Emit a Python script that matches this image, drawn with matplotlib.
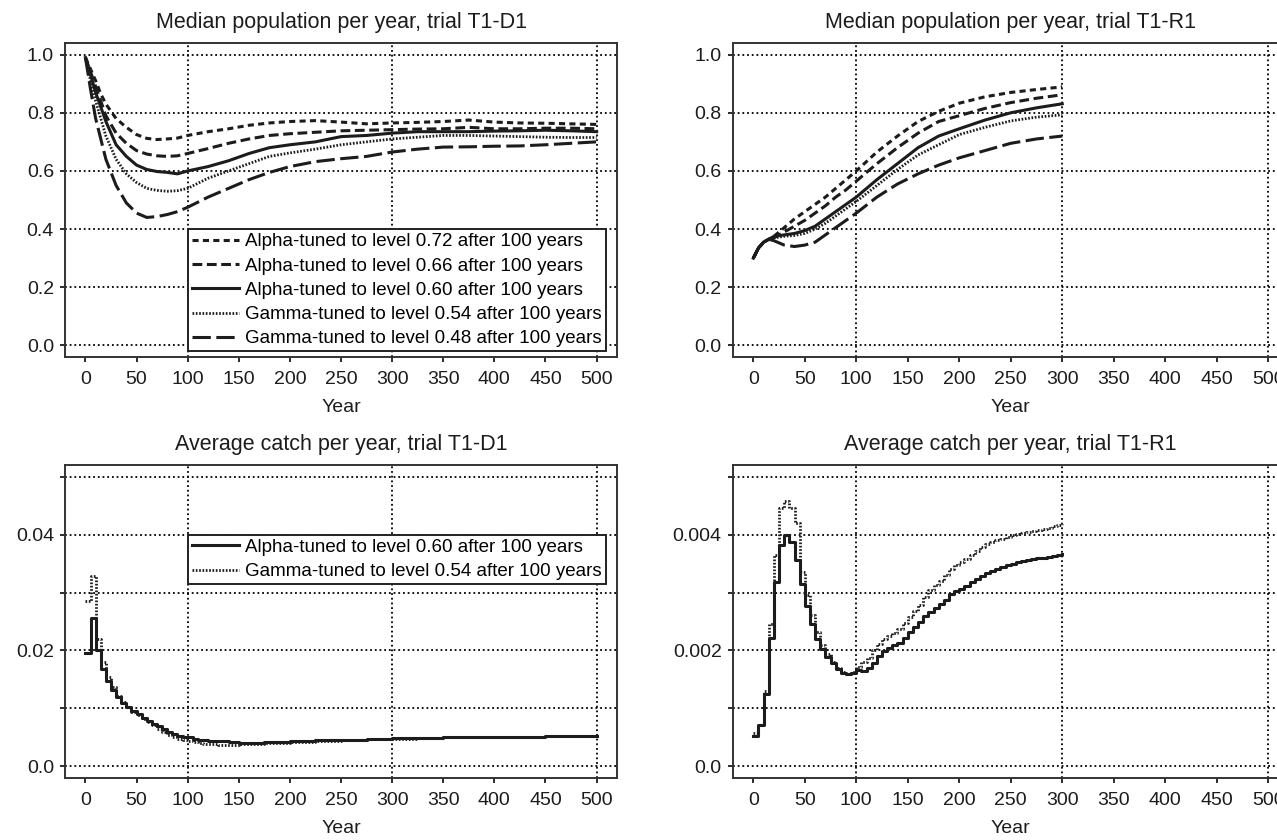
import matplotlib
matplotlib.use("Agg")
import matplotlib.pyplot as plt

plt.rcParams["font.family"] = ["Liberation Sans", "DejaVu Sans"]

# ── data ──────────────────────────────────────────────────────────────────────
years_d1 = [0, 5, 10, 15, 20, 30, 40, 50, 60, 70, 80, 90, 100, 120, 140, 160,
            180, 200, 225, 250, 275, 300, 325, 350, 375, 400, 425, 450, 475, 500]
pop_d1_a072 = [0.99, 0.95, 0.91, 0.865, 0.83, 0.78, 0.75, 0.725, 0.712, 0.708,
               0.71, 0.713, 0.722, 0.735, 0.745, 0.757, 0.765, 0.77, 0.773, 0.768,
               0.762, 0.765, 0.767, 0.77, 0.775, 0.768, 0.765, 0.764, 0.762, 0.76]
pop_d1_a066 = [0.99, 0.94, 0.89, 0.84, 0.79, 0.73, 0.695, 0.67, 0.658, 0.652,
               0.65, 0.652, 0.66, 0.677, 0.695, 0.71, 0.722, 0.728, 0.733, 0.738,
               0.74, 0.742, 0.744, 0.745, 0.75, 0.745, 0.745, 0.747, 0.747, 0.745]
pop_d1_a060 = [0.99, 0.93, 0.87, 0.82, 0.77, 0.69, 0.65, 0.62, 0.605, 0.598,
               0.595, 0.59, 0.60, 0.615, 0.635, 0.66, 0.68, 0.69, 0.70, 0.718,
               0.722, 0.73, 0.735, 0.735, 0.735, 0.737, 0.738, 0.74, 0.738, 0.735]
pop_d1_g054 = [0.99, 0.91, 0.84, 0.78, 0.72, 0.64, 0.59, 0.56, 0.54, 0.533,
               0.53, 0.532, 0.54, 0.575, 0.60, 0.625, 0.65, 0.662, 0.675, 0.69,
               0.70, 0.71, 0.716, 0.722, 0.722, 0.72, 0.718, 0.716, 0.715, 0.715]
pop_d1_g048 = [0.99, 0.88, 0.78, 0.71, 0.64, 0.55, 0.49, 0.455, 0.44, 0.443,
               0.45, 0.46, 0.475, 0.51, 0.54, 0.57, 0.595, 0.615, 0.632, 0.642,
               0.65, 0.665, 0.675, 0.682, 0.683, 0.685, 0.686, 0.69, 0.695, 0.70]

years_r1 = [0, 5, 10, 15, 20, 30, 40, 50, 60, 70, 80, 90, 100, 120, 140, 160,
            180, 200, 225, 250, 275, 300]
pop_r1_a072 = [0.30, 0.335, 0.355, 0.365, 0.375, 0.405, 0.435, 0.46, 0.485, 0.51,
               0.54, 0.57, 0.60, 0.665, 0.72, 0.77, 0.805, 0.833, 0.855, 0.87,
               0.88, 0.889]
pop_r1_a066 = [0.30, 0.335, 0.355, 0.365, 0.37, 0.39, 0.41, 0.43, 0.455, 0.48,
               0.51, 0.535, 0.565, 0.625, 0.68, 0.73, 0.77, 0.79, 0.815, 0.835,
               0.85, 0.862]
pop_r1_a060 = [0.30, 0.335, 0.355, 0.365, 0.375, 0.38, 0.385, 0.395, 0.41, 0.435,
               0.46, 0.485, 0.51, 0.57, 0.625, 0.68, 0.72, 0.745, 0.775, 0.80,
               0.817, 0.831]
pop_r1_g054 = [0.30, 0.335, 0.355, 0.365, 0.37, 0.375, 0.378, 0.385, 0.40, 0.42,
               0.445, 0.47, 0.495, 0.55, 0.605, 0.655, 0.69, 0.725, 0.75, 0.772,
               0.785, 0.793]
pop_r1_g048 = [0.30, 0.335, 0.355, 0.365, 0.36, 0.345, 0.34, 0.345, 0.355, 0.38,
               0.405, 0.43, 0.455, 0.51, 0.555, 0.59, 0.62, 0.645, 0.67, 0.695,
               0.71, 0.72]

catch_years_d1 = [0, 5, 10, 15, 20, 25, 30, 35, 40, 45, 50, 55, 60, 65, 70, 75,
                  80, 85, 90, 95, 100, 105, 110, 115, 120, 130, 140, 150, 175,
                  200, 225, 250, 275, 300, 325, 350, 375, 400, 425, 450, 475, 500]
catch_d1_a060 = [0.0196, 0.0256, 0.0200, 0.0168, 0.0148, 0.0132, 0.0120, 0.0110,
                 0.0102, 0.0095, 0.0090, 0.0084, 0.0079, 0.0074, 0.0069, 0.0064,
                 0.0060, 0.0056, 0.0053, 0.0051, 0.0050, 0.0048, 0.0046, 0.0045,
                 0.0044, 0.0043, 0.0042, 0.0041, 0.0042, 0.0043, 0.0045, 0.0046,
                 0.0047, 0.0049, 0.0049, 0.0050, 0.0050, 0.0051, 0.0051, 0.0052,
                 0.0053, 0.0053]
catch_d1_g054 = [0.0286, 0.0329, 0.0220, 0.0180, 0.0155, 0.0137, 0.0122, 0.0111,
                 0.0102, 0.0094, 0.0088, 0.0082, 0.0076, 0.0071, 0.0065, 0.0060,
                 0.0055, 0.0051, 0.0048, 0.0046, 0.0044, 0.0042, 0.0040, 0.0039,
                 0.0038, 0.0037, 0.0037, 0.0038, 0.0040, 0.0042, 0.0044, 0.0046,
                 0.0047, 0.0048, 0.0049, 0.0050, 0.0050, 0.0051, 0.0051, 0.0052,
                 0.0052, 0.0052]

catch_years_r1 = list(range(0, 301, 5))
catch_r1_a060 = [0.00052, 0.00072, 0.00125, 0.00222, 0.00318, 0.00382, 0.00400,
                 0.00388, 0.00356, 0.00314, 0.00276, 0.00245, 0.00220, 0.00202,
                 0.00189, 0.00178, 0.00168, 0.00161, 0.00159, 0.00162, 0.00167,
                 0.00165, 0.00169, 0.00179, 0.00190, 0.00199, 0.00205, 0.00209,
                 0.00213, 0.00222, 0.00232, 0.00241, 0.00250, 0.00259, 0.00267,
                 0.00274, 0.00280, 0.00287, 0.00297, 0.00302, 0.00306, 0.00312,
                 0.00318, 0.00324, 0.00329, 0.00333, 0.00337, 0.00341, 0.00344,
                 0.00347, 0.00350, 0.00352, 0.00354, 0.00356, 0.00358, 0.00359,
                 0.00360, 0.00362, 0.00363, 0.00365, 0.00366]
catch_r1_g054 = [0.00058, 0.00072, 0.00130, 0.00245, 0.00365, 0.00445, 0.00458,
                 0.00445, 0.00420, 0.00335, 0.00295, 0.00262, 0.00232, 0.00210,
                 0.00194, 0.00180, 0.00170, 0.00163, 0.00160, 0.00163, 0.00172,
                 0.00180, 0.00187, 0.00200, 0.00212, 0.00220, 0.00225, 0.00230,
                 0.00237, 0.00248, 0.00258, 0.00268, 0.00278, 0.00292, 0.00305,
                 0.00313, 0.00320, 0.00331, 0.00340, 0.00347, 0.00352, 0.00358,
                 0.00364, 0.00372, 0.00378, 0.00384, 0.00388, 0.00390, 0.00392,
                 0.00396, 0.00399, 0.00401, 0.00403, 0.00405, 0.00407, 0.00408,
                 0.00410, 0.00412, 0.00414, 0.00416, 0.00418]

labels_pop = ["Alpha-tuned to level 0.72 after 100 years",
              "Alpha-tuned to level 0.66 after 100 years",
              "Alpha-tuned to level 0.60 after 100 years",
              "Gamma-tuned to level 0.54 after 100 years",
              "Gamma-tuned to level 0.48 after 100 years"]
x_ticks = list(range(0, 501, 50))
grid_x = [100, 300, 500]

# ── styles ────────────────────────────────────────────────────────────────────
INK = "#1c1c1c"
STYLES = [dict(ls=(0, (2.0, 1.4)), lw=2.2),   # short dash
          dict(ls=(0, (3.2, 1.5)), lw=2.2),   # medium dash
          dict(ls="-", lw=2.2),               # solid
          dict(ls=(0, (0.6, 0.6)), lw=2.0),   # dotted
          dict(ls=(0, (6.0, 1.8)), lw=2.2)]   # long dash
FS = 14
LEG_FS = 13.5

fig = plt.figure(figsize=(12.77, 8.40), dpi=100)
ax_tl = fig.add_axes([0.0509, 0.575, 0.4323, 0.3738])
ax_tr = fig.add_axes([0.5738, 0.575, 0.4354, 0.3738])
ax_bl = fig.add_axes([0.0509, 0.0738, 0.4323, 0.3726])
ax_br = fig.add_axes([0.5738, 0.0738, 0.4354, 0.3726])


def frame(ax, title):
    ax.set_xlim(-20, 520)
    ax.set_xticks(x_ticks)
    for s in ax.spines.values():
        s.set_color("#333333")
        s.set_linewidth(1.4)
    ax.tick_params(direction="out", length=3.5, width=1.3, colors=INK,
                   labelsize=FS)
    ax.tick_params(axis="x", pad=6.5)
    ax.tick_params(axis="y", pad=4.5)
    ax.yaxis.grid(True, color="black", lw=1.3, ls=(0, (1, 1.6)))
    for gx in grid_x:
        ax.axvline(gx, color="black", lw=1.3, ls=(0, (1, 1.6)), zorder=0.5)
    ax.set_axisbelow(True)
    ax.set_title(title, fontsize=15.5, color=INK, pad=11)
    ax.set_xlabel("Year", fontsize=FS, color=INK, labelpad=8)


def legend(ax, anchor):
    # legend's top-left corner sits at a data point, as in the original
    leg = ax.legend(loc="upper left", bbox_to_anchor=anchor,
                    bbox_transform=ax.transData, borderaxespad=0,
                    fontsize=LEG_FS, handlelength=2.5, handletextpad=0.35,
                    labelspacing=0.38, borderpad=0.22, fancybox=False,
                    framealpha=1, edgecolor="#222222")
    leg.get_frame().set_linewidth(1.4)
    return leg


# --- top row: median population ----------------------------------------------
for ax, yrs, series, title in [
        (ax_tl, years_d1, [pop_d1_a072, pop_d1_a066, pop_d1_a060, pop_d1_g054, pop_d1_g048],
         "Median population per year, trial T1-D1"),
        (ax_tr, years_r1, [pop_r1_a072, pop_r1_a066, pop_r1_a060, pop_r1_g054, pop_r1_g048],
         "Median population per year, trial T1-R1")]:
    frame(ax, title)
    for vals, st, lab in zip(series, STYLES, labels_pop):
        ax.plot(yrs, vals, color=INK, label=lab, **st)
    ax.set_ylim(-0.04, 1.04)
    ax.set_yticks([0, 0.2, 0.4, 0.6, 0.8, 1.0])
    ax.set_yticklabels(["0.0", "0.2", "0.4", "0.6", "0.8", "1.0"])

legend(ax_tl, (100, 0.4))

# --- bottom row: average catch -------------------------------------------------
frame(ax_bl, "Average catch per year, trial T1-D1")
ax_bl.step(catch_years_d1, catch_d1_a060, where="post", color=INK,
           label=labels_pop[2], **STYLES[2])
ax_bl.step(catch_years_d1, catch_d1_g054, where="post", color=INK,
           label=labels_pop[3], **STYLES[3])
ax_bl.set_ylim(-0.002, 0.052)
ax_bl.set_yticks([0, 0.01, 0.02, 0.03, 0.04, 0.05])
ax_bl.set_yticklabels(["0.0", "", "0.02", "", "0.04", ""])
legend(ax_bl, (100, 0.04))

frame(ax_br, "Average catch per year, trial T1-R1")
ax_br.step(catch_years_r1, catch_r1_a060, where="post", color=INK, **STYLES[2])
ax_br.step(catch_years_r1, catch_r1_g054, where="post", color=INK, **STYLES[3])
ax_br.set_ylim(-0.0002, 0.0052)
ax_br.set_yticks([0, 0.001, 0.002, 0.003, 0.004, 0.005])
ax_br.set_yticklabels(["0.0", "", "0.002", "", "0.004", ""])

fig.savefig("out.png", dpi=100)
